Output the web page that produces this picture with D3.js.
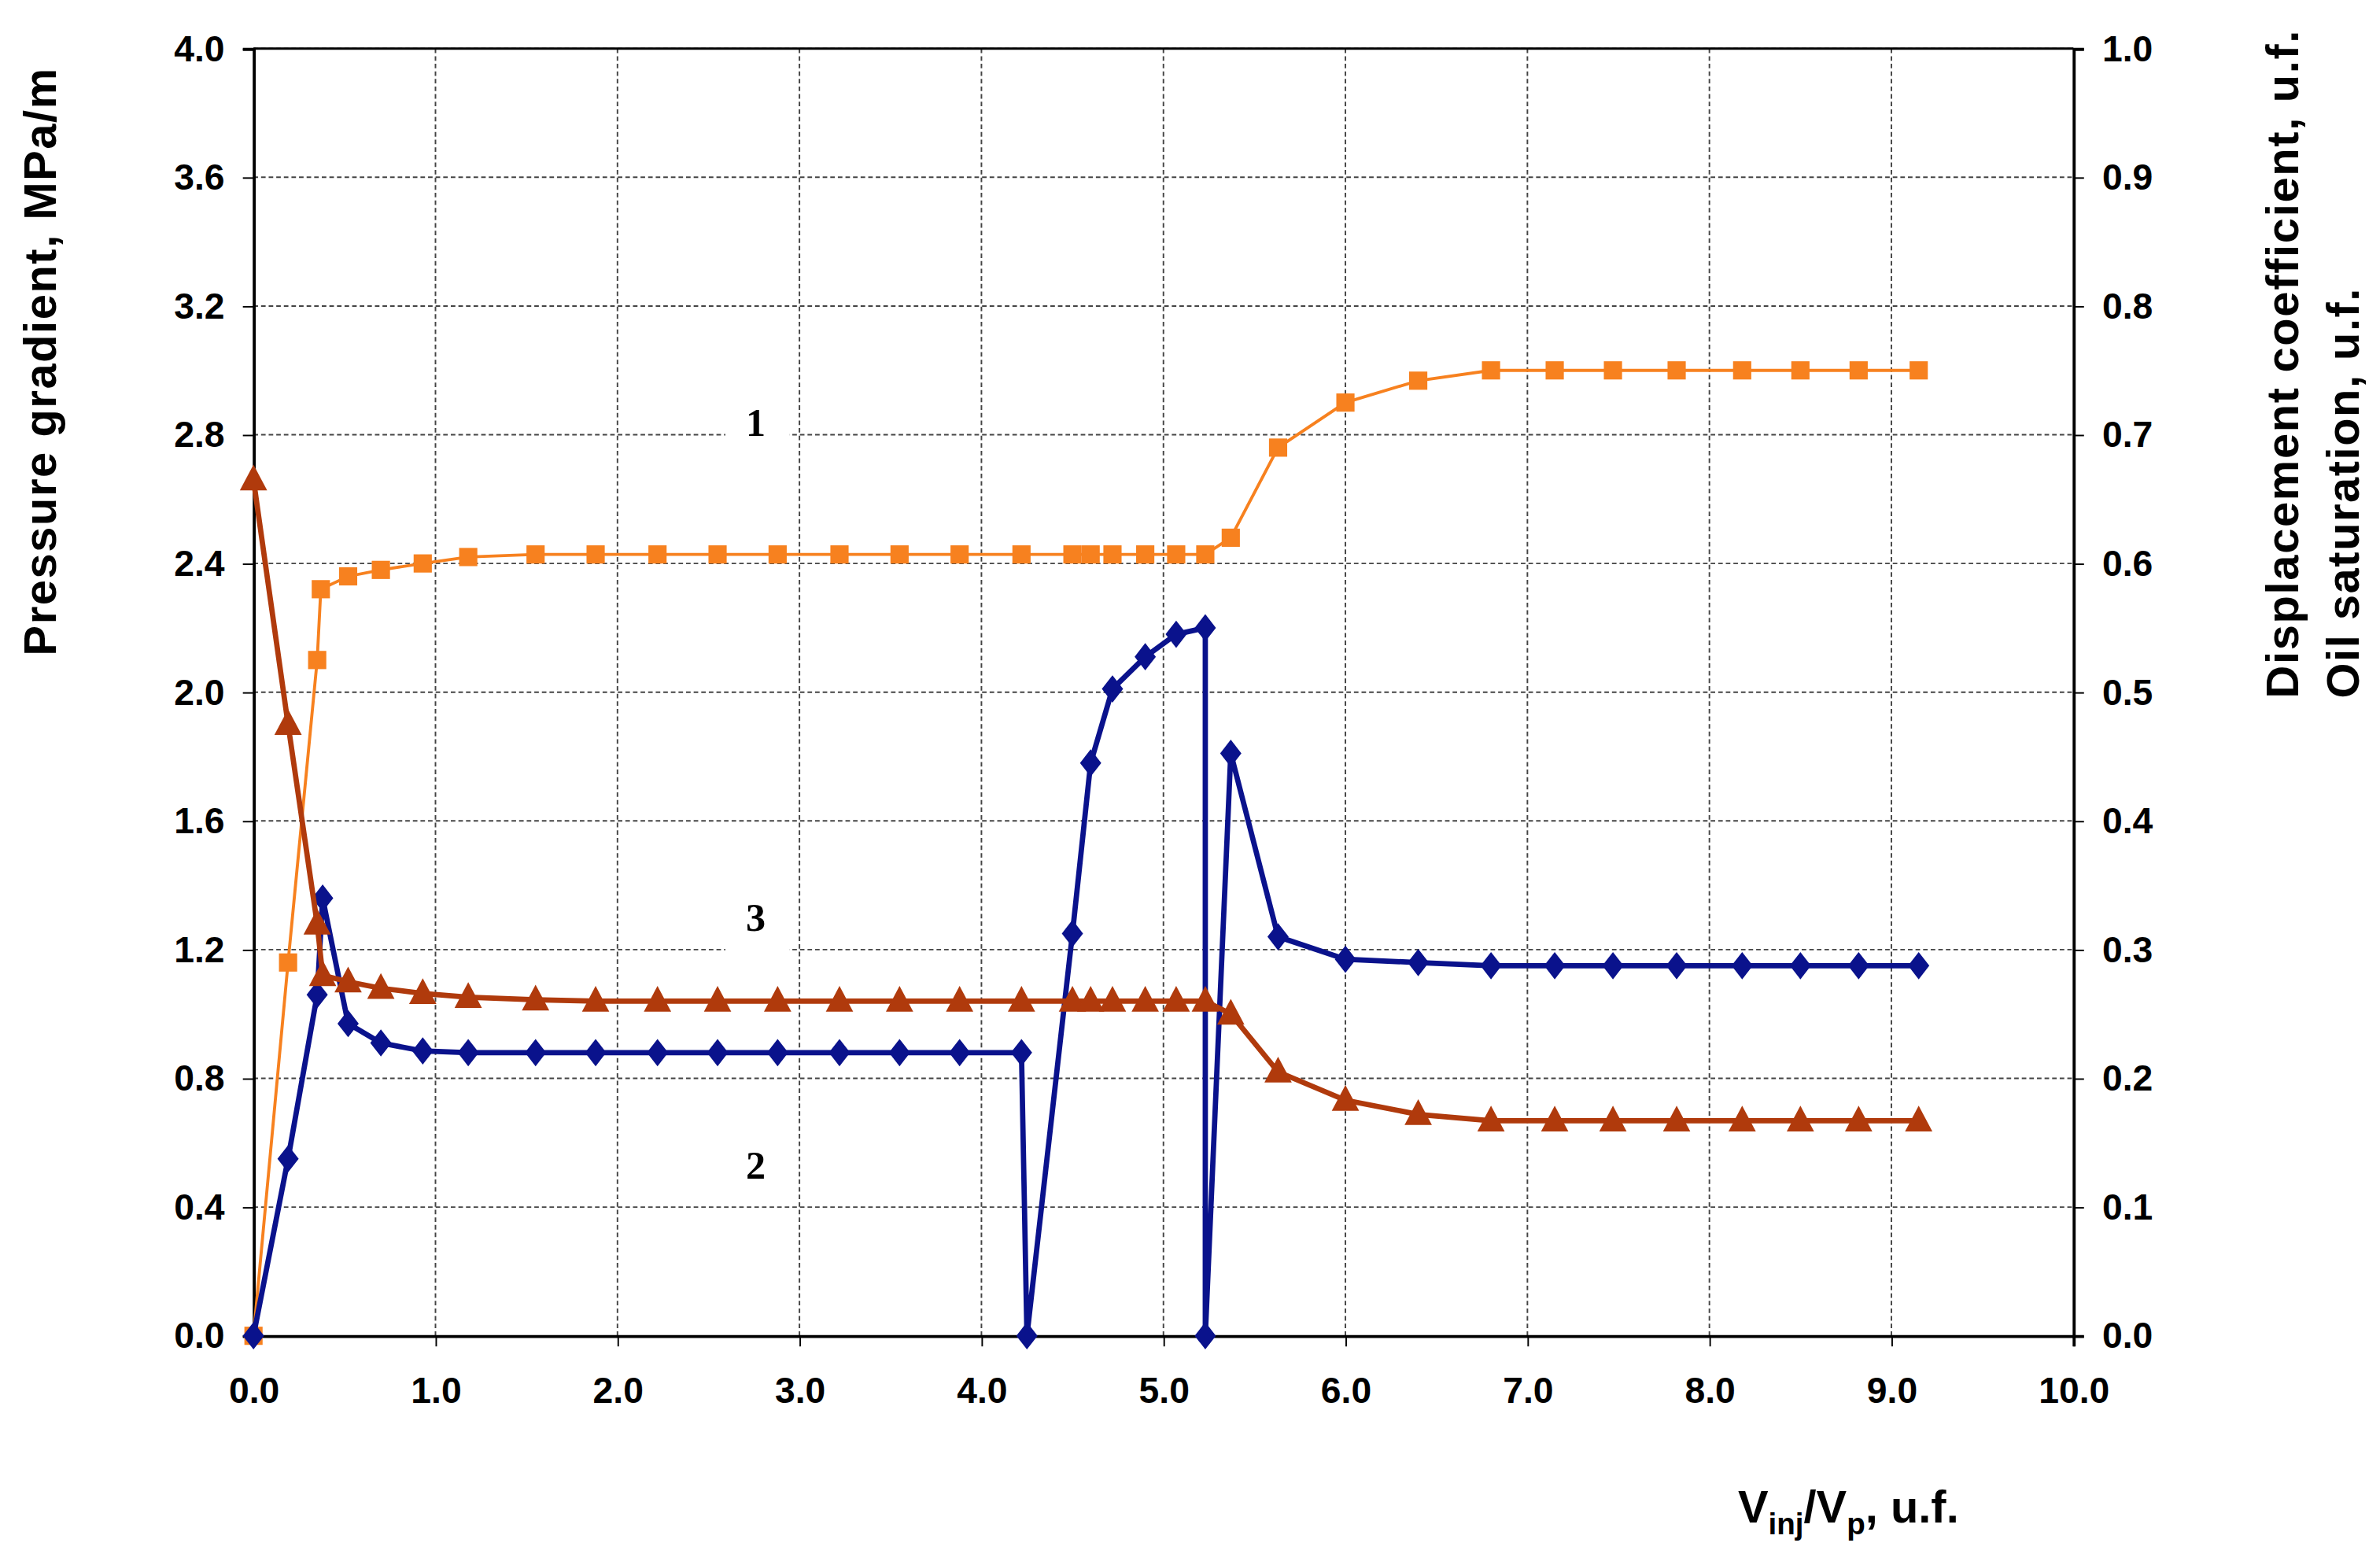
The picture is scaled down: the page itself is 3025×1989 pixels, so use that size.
<!DOCTYPE html>
<html><head><meta charset="utf-8">
<script src="https://cdn.jsdelivr.net/npm/d3@7"></script>
<style>body{margin:0;background:#fff}text{font-family:"Liberation Sans",Arial,sans-serif;font-weight:bold}</style>
</head><body>
<script>
var xDisp = [0,0.19,0.35,0.37,0.52,0.7,0.93,1.18,1.55,1.88,2.22,2.55,2.88,3.22,3.55,3.88,4.22,4.5,4.6,4.72,4.9,5.07,5.23,5.37,5.63,6.0,6.4,6.8,7.15,7.47,7.82,8.18,8.5,8.82,9.15];
var disp = [0,0.29,0.525,0.58,0.59,0.595,0.60,0.605,0.607,0.607,0.607,0.607,0.607,0.607,0.607,0.607,0.607,0.607,0.607,0.607,0.607,0.607,0.607,0.62,0.69,0.725,0.742,0.75,0.75,0.75,0.75,0.75,0.75,0.75,0.75];
var xPres = [0,0.19,0.35,0.38,0.52,0.7,0.93,1.18,1.55,1.88,2.22,2.55,2.88,3.22,3.55,3.88,4.22,4.25,4.5,4.6,4.72,4.9,5.07,5.23,5.23,5.37,5.63,6.0,6.4,6.8,7.15,7.47,7.82,8.18,8.5,8.82,9.15];
var pres = [0,0.55,1.06,1.36,0.97,0.91,0.885,0.88,0.88,0.88,0.88,0.88,0.88,0.88,0.88,0.88,0.88,0,1.25,1.78,2.01,2.11,2.18,2.2,0,1.81,1.24,1.17,1.16,1.15,1.15,1.15,1.15,1.15,1.15,1.15,1.15];
var xOil = [0,0.19,0.35,0.38,0.52,0.7,0.93,1.18,1.55,1.88,2.22,2.55,2.88,3.22,3.55,3.88,4.22,4.5,4.6,4.72,4.9,5.07,5.23,5.37,5.63,6.0,6.4,6.8,7.15,7.47,7.82,8.18,8.5,8.82,9.15];
var oil = [0.665,0.475,0.32,0.28,0.275,0.27,0.266,0.263,0.261,0.26,0.26,0.26,0.26,0.26,0.26,0.26,0.26,0.26,0.26,0.26,0.26,0.26,0.26,0.25,0.205,0.183,0.172,0.167,0.167,0.167,0.167,0.167,0.167,0.167,0.167];
var xTicks = d3.range(0,10.01,1), yLeftTicks = d3.range(0,4.01,0.4), yRightTicks = d3.range(0,1.01,0.1);
var curveLabels = [{t:"1",x:2.76,y:2.84},{t:"3",x:2.76,y:1.30},{t:"2",x:2.76,y:0.53}];

var svg = d3.select("body").append("svg").attr("width",3025).attr("height",1989)
  .attr("viewBox","0 0 1568 1031");
var x = d3.scaleLinear().domain([0,10]).range([167,1366]);
var yL = d3.scaleLinear().domain([0,4]).range([880,32]);
var yR = d3.scaleLinear().domain([0,1]).range([880,32]);

var g = svg.append("g");
g.selectAll(".hg").data(yLeftTicks.slice(1)).enter().append("line")
  .attr("x1",167).attr("x2",1366).attr("y1",d=>yL(d)).attr("y2",d=>yL(d))
  .attr("stroke","#444").attr("stroke-width",1).attr("stroke-dasharray","3,2");
g.selectAll(".vg").data(xTicks.slice(1,-1)).enter().append("line")
  .attr("y1",32).attr("y2",880).attr("x1",d=>x(d)).attr("x2",d=>x(d))
  .attr("stroke","#444").attr("stroke-width",1).attr("stroke-dasharray","3,2");
g.selectAll(".lb").data(curveLabels).enter().append("rect")
  .attr("x",d=>x(d.x)-20).attr("y",d=>yL(d.y)-22).attr("width",42).attr("height",44).attr("fill","#fff");
g.selectAll(".lt").data(curveLabels).enter().append("text")
  .attr("x",d=>x(d.x)).attr("y",d=>yL(d.y)+9).attr("text-anchor","middle")
  .style("font-size","26px").style("font-family","Liberation Serif").text(d=>d.t);

var axL = svg.append("g").attr("transform","translate(167,0)")
  .call(d3.axisLeft(yL).tickValues(yLeftTicks).tickFormat(d3.format(".1f")).tickSize(7).tickPadding(12));
var axR = svg.append("g").attr("transform","translate(1366,0)")
  .call(d3.axisRight(yR).tickValues(yRightTicks).tickFormat(d3.format(".1f")).tickSize(7).tickPadding(12));
var axB = svg.append("g").attr("transform","translate(0,880)")
  .call(d3.axisBottom(x).tickValues(xTicks).tickFormat(d3.format(".1f")).tickSize(7).tickPadding(20));
[axL,axR,axB].forEach(a=>{a.selectAll("text").style("font-size","24px").attr("fill","#000");
  a.select(".domain").attr("stroke-width",2);});
svg.append("line").attr("x1",167).attr("x2",1366).attr("y1",32).attr("y2",32).attr("stroke","#000").attr("stroke-width",1.5);

function series(xs,ys,ysc,color,w){
  var pts = xs.map((v,i)=>[x(v),ysc(ys[i])]);
  svg.append("path").attr("d",d3.line()(pts)).attr("fill","none").attr("stroke",color).attr("stroke-width",w);
  return pts;
}
var pO = series(xDisp,disp,yR,"#f7811f",2);
svg.selectAll(".sq").data(pO).enter().append("rect").attr("x",d=>d[0]-6).attr("y",d=>d[1]-6)
  .attr("width",12).attr("height",12).attr("fill","#f7811f");
var pB = series(xPres,pres,yL,"#0a128c",3.5);
svg.selectAll(".dm").data(pB).enter().append("path").attr("transform",d=>"translate("+d+")")
  .attr("d","M0,-9L7,0L0,9L-7,0Z").attr("fill","#0a128c");
var pR = series(xOil,oil,yR,"#b03a0c",3.5);
svg.selectAll(".tr").data(pR).enter().append("path").attr("transform",d=>"translate("+d+")")
  .attr("d","M0,-10L9,7L-9,7Z").attr("fill","#b03a0c");

svg.append("text").attr("transform","translate(37,432) rotate(-90)").style("font-size","30px").attr("textLength",387).text("Pressure gradient, MPa/m");
svg.append("text").attr("transform","translate(1514,460) rotate(-90)").style("font-size","30px").attr("textLength",440).text("Displacement coefficient, u.f.");
svg.append("text").attr("transform","translate(1554,460) rotate(-90)").style("font-size","30px").attr("textLength",270).text("Oil saturation, u.f.");
var t = svg.append("text").attr("x",1145).attr("y",1003).style("font-size","30px");
t.append("tspan").text("V");
t.append("tspan").attr("dy",8).style("font-size","20px").text("inj");
t.append("tspan").attr("dy",-8).text("/V");
t.append("tspan").attr("dy",8).style("font-size","20px").text("p");
t.append("tspan").attr("dy",-8).text(", u.f.");
</script>
</body></html>
